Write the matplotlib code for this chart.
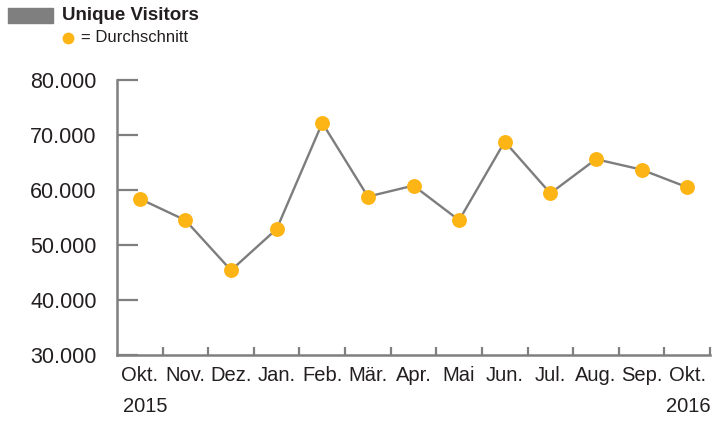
import matplotlib
matplotlib.use("Agg")
import matplotlib.pyplot as plt
from matplotlib.ticker import FuncFormatter, FixedLocator
from matplotlib.patches import Rectangle
from matplotlib.lines import Line2D

# ==============================
# DATA
# ==============================

months = ["Okt.", "Nov.", "Dez.", "Jan.", "Feb.", "Mär.", "Apr.",
          "Mai", "Jun.", "Jul.", "Aug.", "Sep.", "Okt."]
visitors = [58400, 54500, 45400, 52900, 72200, 58800, 60800,
            54500, 68800, 59400, 65600, 63700, 60500]
y_ticks = [30000, 40000, 50000, 60000, 70000, 80000]

# ==============================
# STYLE
# ==============================

plt.rcParams["font.family"] = ["Liberation Sans", "DejaVu Sans"]
TEXT = "#231f20"
AXIS = "#7f7f80"
LINE = "#7d7d7f"
DOT = "#fdb515"

fig = plt.figure(figsize=(7.17, 4.21), dpi=100)
ax = fig.add_axes([117 / 717, 66 / 421, (710 - 117) / 717, (355 - 80) / 421])

x = list(range(len(months)))
ax.plot(x, visitors, color=LINE, linewidth=1.7, zorder=2)
ax.scatter(x, visitors, s=115, color=DOT, zorder=3, linewidths=0)

ax.set_xlim(-0.5, len(months) - 0.5)
ax.set_ylim(30000, 80000)

for side in ["top", "right"]:
    ax.spines[side].set_visible(False)
for side in ["left", "bottom"]:
    ax.spines[side].set_color(AXIS)
    ax.spines[side].set_linewidth(1.8)

ax.set_yticks(y_ticks)
ax.yaxis.set_major_formatter(FuncFormatter(lambda v, p: f"{int(v):,}".replace(",", ".")))
ax.tick_params(axis="y", direction="in", length=15, width=1.6, color=AXIS,
               labelsize=15.5, labelcolor=TEXT, pad=14.5)

ax.set_xticks(x)
ax.set_xticklabels(months)
ax.tick_params(axis="x", which="major", length=0, labelsize=14.5,
               labelcolor=TEXT, pad=8)
ax.xaxis.set_minor_locator(FixedLocator([i + 0.5 for i in x]))
ax.tick_params(axis="x", which="minor", direction="in", length=6, width=1.6, color=AXIS)

# year labels
fig.text(123 / 717, 1 - 407 / 421, "2015", ha="left", va="center",
         fontsize=14.5, color=TEXT)
fig.text(711 / 717, 1 - 407 / 421, "2016", ha="right", va="center",
         fontsize=14.5, color=TEXT)

# ==============================
# LEGEND
# ==============================

fig.patches.append(Rectangle((8 / 717, 1 - 23 / 421), 45 / 717, 15 / 421,
                             transform=fig.transFigure, color="#7f7f80"))
fig.text(62 / 717, 1 - 16 / 421, "Unique Visitors", ha="left", va="center",
         fontsize=13.5, fontweight="bold", color=TEXT)
fig.lines.append(Line2D([68 / 717], [1 - 38 / 421], marker="o", markersize=8.5,
                        color=DOT, markeredgewidth=0, transform=fig.transFigure))
fig.text(81 / 717, 1 - 38 / 421, "= Durchschnitt", ha="left", va="center",
         fontsize=12, color=TEXT)

plt.savefig("out.png", dpi=100)
